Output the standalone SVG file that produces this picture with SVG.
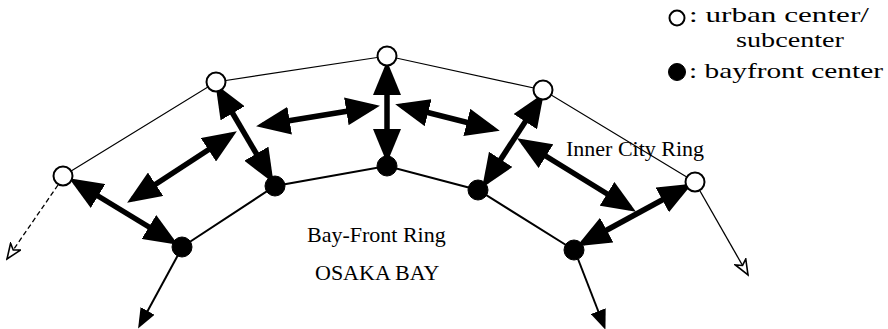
<svg xmlns="http://www.w3.org/2000/svg" width="888" height="329" viewBox="0 0 888 329">
  <style>
    .label { font-family: "Liberation Serif", "Times New Roman", serif; font-size: 22px; fill: #000; }
    .key { font-family: "Liberation Serif", "Times New Roman", serif; font-size: 22px; fill: #000; }
    .urban { fill: #fff; stroke: #000; stroke-width: 2; }
    .bay { fill: #000; stroke: #000; stroke-width: 1; }
    .ring-inner { fill: none; stroke: #000; stroke-width: 1.2; }
    .ring-bay { fill: none; stroke: #000; stroke-width: 2; }
    .link { fill: none; stroke: #000; stroke-width: 5.5; marker-start: url(#bigHead); marker-end: url(#bigHead); }
    .out { fill: none; stroke: #000; stroke-width: 2; marker-end: url(#smallHead); }
    .ext { fill: none; stroke: #000; stroke-width: 1.3; marker-end: url(#openHead); }
  </style>
  <defs>
    <marker id="bigHead" viewBox="0 0 34 28" refX="27" refY="14" markerWidth="34" markerHeight="28" markerUnits="userSpaceOnUse" orient="auto-start-reverse">
      <path d="M0,0 L34,14 L0,28 z" fill="#000"/>
    </marker>
    <marker id="smallHead" viewBox="0 0 20 16" refX="16" refY="8" markerWidth="20" markerHeight="16" markerUnits="userSpaceOnUse" orient="auto">
      <path d="M0,0 L20,8 L0,16 z" fill="#000"/>
    </marker>
    <marker id="openHead" viewBox="0 0 18 14" refX="16" refY="7" markerWidth="18" markerHeight="14" markerUnits="userSpaceOnUse" orient="auto">
      <path d="M1,1 L16,7 L1,13 L5,7 z" fill="#fff" stroke="#000" stroke-width="1.6" stroke-linejoin="miter"/>
    </marker>
  </defs>

  <!-- connectors: rings, links between centers, outward extensions -->
  <g id="connectors">
    <polyline class="ring-inner" points="63,176 216,82 387,56 543,90 695,182"/>
    <polyline class="ring-bay" points="182,247 275,186 387,166 478,190 574,250"/>
    <line class="ext" x1="58" y1="185" x2="7" y2="259" stroke-dasharray="5,3"/>
    <line class="ext" x1="700" y1="191" x2="748" y2="275"/>
    <line class="out" x1="178" y1="255" x2="140" y2="325"/>
    <line class="out" x1="578" y1="259" x2="604" y2="326"/>
    <line class="link" x1="75" y1="182" x2="172" y2="241"/>
    <line class="link" x1="219" y1="90" x2="270" y2="177"/>
    <line class="link" x1="387" y1="68" x2="387" y2="156"/>
    <line class="link" x1="540" y1="99" x2="486" y2="182"/>
    <line class="link" x1="686" y1="187" x2="583" y2="243"/>
    <line class="link" x1="133" y1="199" x2="231" y2="135"/>
    <line class="link" x1="263" y1="125" x2="373" y2="107"/>
    <line class="link" x1="402" y1="106" x2="493" y2="129"/>
    <line class="link" x1="523" y1="142" x2="630" y2="208"/>
  </g>

  <!-- urban centers / subcenters -->
  <g id="u1"><circle class="urban" cx="63" cy="176" r="9.5"/></g>
  <g id="u2"><circle class="urban" cx="216" cy="82" r="9.5"/></g>
  <g id="u3"><circle class="urban" cx="387" cy="56" r="9.5"/></g>
  <g id="u4"><circle class="urban" cx="543" cy="90" r="9.5"/></g>
  <g id="u5"><circle class="urban" cx="695" cy="182" r="9.5"/></g>

  <!-- bayfront centers -->
  <g id="b1"><circle class="bay" cx="182" cy="247" r="10"/></g>
  <g id="b2"><circle class="bay" cx="275" cy="186" r="10"/></g>
  <g id="b3"><circle class="bay" cx="387" cy="166" r="10"/></g>
  <g id="b4"><circle class="bay" cx="478" cy="190" r="10"/></g>
  <g id="b5"><circle class="bay" cx="574" cy="250" r="10"/></g>

  <!-- labels -->
  <g id="labels">
    <text class="label" x="566" y="156">Inner City Ring</text>
    <text class="label" x="307" y="242">Bay-Front Ring</text>
    <text class="label" x="315" y="280">OSAKA BAY</text>
  </g>

  <!-- legend -->
  <g id="legend">
    <circle class="urban" cx="677" cy="18" r="7.5" stroke-width="1.5"/>
    <text class="key" x="689" y="22" textLength="180" lengthAdjust="spacingAndGlyphs">: urban center/</text>
    <text class="key" x="736" y="47" textLength="108" lengthAdjust="spacingAndGlyphs">subcenter</text>
    <circle class="bay" cx="677" cy="72" r="8.5"/>
    <text class="key" x="689" y="78" textLength="194" lengthAdjust="spacingAndGlyphs">: bayfront center</text>
  </g>
</svg>
